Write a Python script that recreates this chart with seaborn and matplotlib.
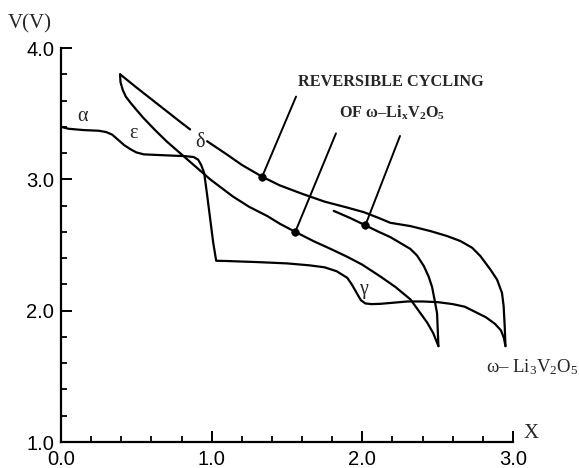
import numpy as np
import pandas as pd
import matplotlib
matplotlib.use('Agg')
import matplotlib.pyplot as plt
import seaborn as sns
from matplotlib.ticker import MultipleLocator, FormatStrFormatter

# ---------------- data ----------------
# first discharge (alpha -> epsilon -> delta -> gamma -> omega)
disch1_x = [0.00, 0.05, 0.15, 0.25, 0.30, 0.34, 0.38, 0.42, 0.46, 0.50, 0.55, 0.65,
            0.75, 0.82, 0.88, 0.91, 0.93, 0.95, 0.97, 0.99, 1.01, 1.03, 1.10, 1.30,
            1.50, 1.65, 1.75, 1.83, 1.90, 1.93, 1.96, 1.99, 2.02, 2.06, 2.12, 2.20,
            2.30, 2.40, 2.50, 2.60, 2.68, 2.75, 2.82, 2.88, 2.92, 2.94, 2.95]
disch1_v = [3.40, 3.385, 3.375, 3.37, 3.36, 3.34, 3.30, 3.26, 3.23, 3.205, 3.19, 3.185,
            3.18, 3.177, 3.17, 3.15, 3.11, 3.05, 2.88, 2.70, 2.52, 2.38, 2.378, 2.37,
            2.36, 2.345, 2.33, 2.30, 2.25, 2.20, 2.14, 2.08, 2.055, 2.05, 2.052, 2.06,
            2.07, 2.07, 2.065, 2.05, 2.03, 1.99, 1.95, 1.90, 1.85, 1.79, 1.73]

# charge curve from omega-Li3V2O5 (upper curve), interrupted by the delta label
chargeA1_x = [0.392, 0.50, 0.60, 0.70, 0.80, 0.857]
chargeA1_v = [3.80, 3.70, 3.61, 3.52, 3.43, 3.38]
chargeA2_x = [0.97, 1.10, 1.20, 1.335, 1.45, 1.60, 1.75, 1.90, 2.01, 2.10, 2.186, 2.319,
              2.452, 2.563, 2.651, 2.729, 2.784, 2.85, 2.894, 2.927, 2.938, 2.945, 2.95]
chargeA2_v = [3.29, 3.19, 3.11, 3.02, 2.955, 2.89, 2.83, 2.785, 2.75, 2.71, 2.669, 2.644,
              2.606, 2.568, 2.53, 2.479, 2.415, 2.313, 2.237, 2.135, 2.033, 1.88, 1.73]

# second discharge (inner curve)
dischB_x = [0.392, 0.395, 0.41, 0.43, 0.46, 0.50, 0.545, 0.62, 0.70, 0.84, 0.99, 1.14,
            1.25, 1.37, 1.455, 1.555, 1.675, 1.79, 1.90, 2.00, 2.12, 2.22, 2.32, 2.43,
            2.47, 2.505]
dischB_v = [3.80, 3.74, 3.68, 3.63, 3.585, 3.53, 3.47, 3.38, 3.29, 3.15, 3.00, 2.87,
            2.79, 2.72, 2.66, 2.60, 2.53, 2.47, 2.41, 2.35, 2.26, 2.18, 2.085, 1.91,
            1.83, 1.73]

# second charge (short curve)
chargeC_x = [1.81, 1.92, 2.02, 2.10, 2.186, 2.26, 2.319, 2.363, 2.408, 2.44, 2.463, 2.48, 2.496, 2.505]
chargeC_v = [2.76, 2.705, 2.65, 2.605, 2.56, 2.51, 2.47, 2.42, 2.34, 2.26, 2.18, 2.08, 1.98, 1.73]

# annotation dots and leader-line tops
dot_x = [1.335, 1.555, 2.02]
dot_v = [3.02, 2.60, 2.65]
lead_x = [1.56, 1.825, 2.25]
lead_v = [3.63, 3.35, 3.33]

# phase labels
phase_labels = ['α', 'ε', 'δ', 'γ']
phase_x = [0.14, 0.48, 0.92, 2.01]
phase_v = [3.48, 3.35, 3.28, 2.16]

y_ticks = [1.0, 2.0, 3.0, 4.0]
x_ticks = [0.0, 1.0, 2.0, 3.0]

# ---------------- style ----------------
sns.set_style('ticks')
plt.rcParams['font.family'] = ['Liberation Serif', 'DejaVu Serif']
plt.rcParams['mathtext.fontset'] = 'custom'
plt.rcParams['mathtext.rm'] = 'Liberation Serif'
plt.rcParams['mathtext.bf'] = 'Liberation Serif:bold'
plt.rcParams['mathtext.it'] = 'Liberation Serif:italic'

W, H = 579, 468
fig = plt.figure(figsize=(W / 100, H / 100), dpi=100)
ax = fig.add_axes([61 / W, 1 - 442 / H, (513 - 61) / W, (442 - 48) / H])

lw = 1.6
for xs, vs in [(disch1_x, disch1_v), (chargeA1_x, chargeA1_v), (chargeA2_x, chargeA2_v),
               (dischB_x, dischB_v), (chargeC_x, chargeC_v)]:
    sns.lineplot(x=xs, y=vs, sort=False, estimator=None, color='black', lw=lw, ax=ax)

for dx, dv, lx, lv in zip(dot_x, dot_v, lead_x, lead_v):
    ax.plot([dx, lx], [dv, lv], color='black', lw=1.4)
sns.scatterplot(x=dot_x, y=dot_v, color='black', s=30, edgecolor='black', ax=ax, zorder=5)

for lab, px, pv in zip(phase_labels, phase_x, phase_v):
    ax.text(px, pv, lab, fontsize=14.5, ha='center', va='center')

ax.text(2.19, 3.74, 'REVERSIBLE CYCLING', fontsize=11.7, fontweight='bold', ha='center', va='center')
ax.text(2.20, 3.51, r'OF ω–Li$_\mathbf{x}$V$_\mathbf{2}$O$_\mathbf{5}$', fontsize=11.7,
        fontweight='bold', ha='center', va='center')
ax.text(2.82, 1.57, r'ω– Li$_\mathrm{3}$V$_\mathrm{2}$O$_\mathrm{5}$', fontsize=13.5,
        ha='left', va='center', clip_on=False)

ax.set_xlim(0, 3)
ax.set_ylim(1, 4)
ax.set_xticks(x_ticks)
ax.set_yticks(y_ticks)
ax.xaxis.set_minor_locator(MultipleLocator(0.2))
ax.yaxis.set_minor_locator(MultipleLocator(0.2))
ax.xaxis.set_major_formatter(FormatStrFormatter('%.1f'))
ax.yaxis.set_major_formatter(FormatStrFormatter('%.1f'))
ax.tick_params(which='major', direction='in', length=8, width=1.4, labelsize=14.5,
               labelfontfamily='Liberation Sans', pad=5, colors='black')
ax.tick_params(which='minor', direction='in', length=4.5, width=1.3, colors='black')
ax.tick_params(axis='x', which='major', pad=6)

for s in ['top', 'right']:
    ax.spines[s].set_visible(False)
for s in ['left', 'bottom']:
    ax.spines[s].set_linewidth(1.6)
    ax.spines[s].set_color('black')

ax.set_xlabel('')
ax.set_ylabel('')
fig.text(29.5 / W, 1 - 24 / H, 'V(V)', fontsize=15, ha='center', va='center')
fig.text(531 / W, 1 - 433 / H, 'X', fontsize=15, ha='center', va='center')

fig.savefig('out.png', dpi=100)
